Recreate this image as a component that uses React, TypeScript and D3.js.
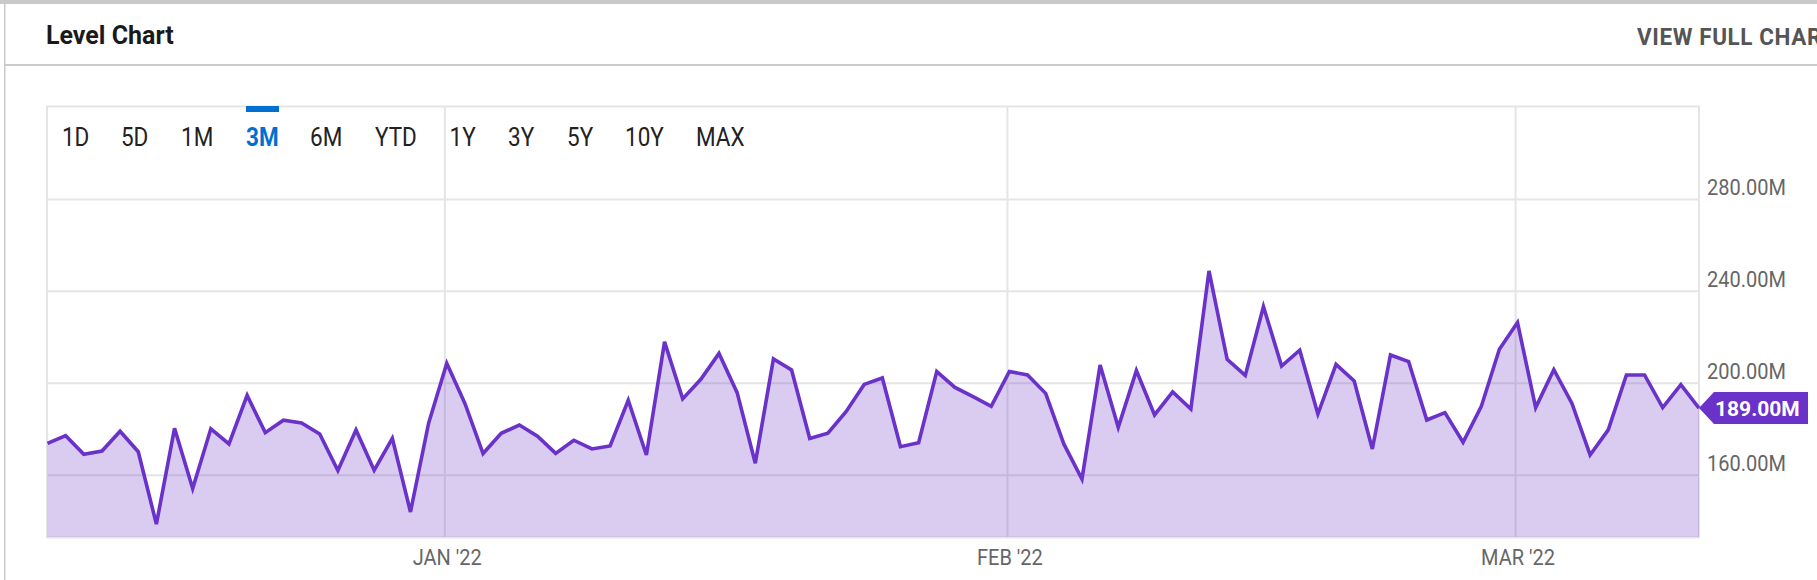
import * as d3 from 'd3';
import { useEffect, useRef } from 'react';

const startDate = new Date(2021, 11, 10);
const levels = [
  173.6, 177, 168.9, 170.3, 178.9, 170, 138.5, 180.2, 154, 180, 173.4, 194.5, 178.3, 183.7, 182.5, 177.7,
  161.8, 179.5, 161.9, 175.8, 143.8, 182.4, 208.5, 191, 169.2, 178, 181.6, 176.8, 169.3, 175, 171.2, 172.5,
  192.4, 168.6, 217.8, 193, 201.5, 212.8, 195.7, 165, 210.4, 205.6, 175.8, 178.1, 187.4, 199.3, 202.1, 172.2,
  173.9, 204.9, 198, 194, 189.8, 204.9, 203.4, 195.4, 173.4, 158.1, 207.7, 180.6, 205.3, 186, 196, 188.6,
  248.7, 210.2, 203.2, 233.2, 207.3, 214.2, 186.4, 208, 200.8, 171.2, 212.1, 209.2, 183.8, 187, 174.1, 189.6,
  214.6, 226.2, 189.2, 205.7, 191, 168.6, 179.5, 203.4, 203.4, 189.2, 199.2, 189,
];
const yTicks = [280, 240, 200, 160];
const monthTicks = [new Date(2022, 0, 1), new Date(2022, 1, 1), new Date(2022, 2, 1)];
const rangeLabels = ['1D', '5D', '1M', '3M', '6M', 'YTD', '1Y', '3Y', '5Y', '10Y', 'MAX'];
const rangeX = [62, 121, 181, 246, 310, 375, 449.5, 508, 567, 625, 696];
const activeRange = '3M';

const FONT = 'Roboto, sans-serif';

// the reference text is a bit taller than Roboto's natural proportions
const stretch = (sel: any, k: number) =>
  sel.style('transform-box', 'fill-box').style('transform-origin', 'center').style('transform', `scaleY(${k})`);

const App = () => {
  const svgRef = useRef<SVGSVGElement | null>(null);

  useEffect(() => {
    if (!svgRef.current) return;
    document.body.style.margin = '0';
    const svg = d3.select(svgRef.current);
    svg.selectAll('*').remove();

    const left = 47.5, right = 1699, top = 107, bottom = 537;
    const dates = levels.map((_, i) => d3.timeDay.offset(startDate, i));
    const x = d3.scaleTime().domain([dates[0], dates[dates.length - 1]]).range([left, right]);
    const y = d3.scaleLinear().domain([132.9, 320]).range([bottom, top]);

    // Card frame
    svg.append('rect').attr('x', 0).attr('y', 0).attr('width', 1817).attr('height', 4).attr('fill', '#c9c9c9');
    svg.append('rect').attr('x', 4).attr('y', 4).attr('width', 1.5).attr('height', 576).attr('fill', '#c9c9c9');
    svg.append('rect').attr('x', 5).attr('y', 64).attr('width', 1812).attr('height', 2).attr('fill', '#cccccc');

    stretch(svg.append('text').attr('x', 46).attr('y', 43).text('Level Chart')
      .style('font', `700 25px ${FONT}`).attr('fill', '#1a1a1a'), 1.06);
    stretch(svg.append('text').attr('x', 1637).attr('y', 44).text('VIEW FULL CHART')
      .style('font', `700 22.5px ${FONT}`).style('letter-spacing', '0.6px').attr('fill', '#555555'), 1.1);

    // Grid
    const gridColor = '#e5e5e5';
    const yAxis = svg.append('g').attr('transform', `translate(${right},0)`)
      .call(d3.axisRight(y).tickValues(yTicks).tickSize(-(right - left)).tickPadding(8)
        .tickFormat(d => `${d3.format('.2f')(+d)}M`));
    yAxis.select('.domain').remove();
    yAxis.selectAll('line').attr('stroke', gridColor).attr('stroke-width', 2);
    stretch(yAxis.selectAll('text').attr('dy', -5).style('font', `400 20px ${FONT}`).attr('fill', '#666666'), 1.1);

    const xAxis = svg.append('g').attr('transform', `translate(0,${bottom})`)
      .call(d3.axisBottom(x).tickValues(monthTicks).tickSize(-(bottom - top)).tickPadding(13)
        .tickFormat(d => d3.timeFormat("%b '%y")(d as Date).toUpperCase()));
    xAxis.select('.domain').remove();
    xAxis.selectAll('line').attr('stroke', gridColor).attr('stroke-width', 2).attr('transform', 'translate(-2.4,0)');
    stretch(xAxis.selectAll('text').style('font', `400 20px ${FONT}`).attr('fill', '#666666'), 1.1);

    // Plot border
    svg.append('rect').attr('x', left - 0.5).attr('y', top - 0.5).attr('width', right - left + 0.5).attr('height', bottom - top + 1)
      .attr('fill', 'none').attr('stroke', gridColor).attr('stroke-width', 2);

    // Area and line
    const area = d3.area<number>().x((_, i) => x(dates[i])).y0(bottom).y1(d => y(d));
    const line = d3.line<number>().x((_, i) => x(dates[i])).y(d => y(d));
    svg.append('path').attr('d', area(levels)).attr('fill', '#6a32c9').attr('fill-opacity', 0.25);
    svg.append('path').attr('d', line(levels)).attr('fill', 'none').attr('stroke', '#6a32c9').attr('stroke-width', 3.6);

    // Range selector
    stretch(svg.selectAll('.range').data(rangeLabels).join('text')
      .attr('class', 'range')
      .attr('x', (_, i) => rangeX[i]).attr('y', 145)
      .text(d => d)
      .style('font', d => `${d === activeRange ? 700 : 400} 22.5px ${FONT}`)
      .attr('fill', d => (d === activeRange ? '#0070d0' : '#222222')), 1.14);
    const activeX = rangeX[rangeLabels.indexOf(activeRange)];
    svg.append('rect').attr('x', activeX).attr('y', 106).attr('width', 33).attr('height', 6).attr('fill', '#0070d0');

    // Last value flag
    const last = levels[levels.length - 1];
    const ly = y(last);
    svg.append('path')
      .attr('d', `M${right},${ly} L${right + 15},${ly - 16} H1808 V${ly + 16} H${right + 15} Z`)
      .attr('fill', '#6a32c9');
    svg.append('text').attr('x', 1715).attr('y', ly + 8).text(`${last.toFixed(2)}M`)
      .style('font', `700 21px ${FONT}`).attr('fill', '#ffffff');
  }, []);

  return <svg ref={svgRef} width={1817} height={580} style={{ display: 'block', background: '#fff' }} />;
};

export default App;
